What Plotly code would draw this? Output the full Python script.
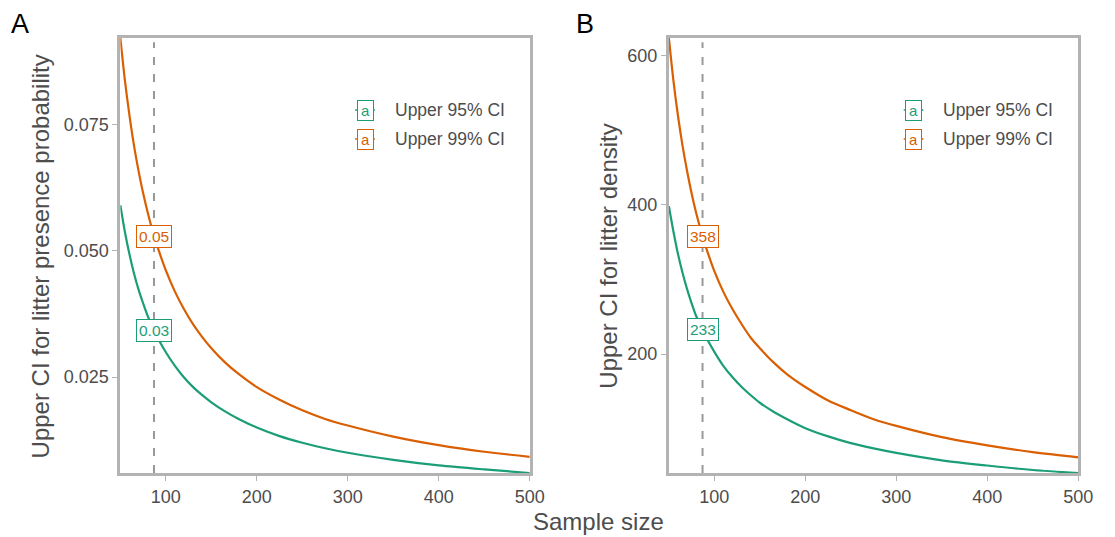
import plotly.graph_objects as go

# Sample sizes at which the upper confidence limits are tabulated
sample_size = [50, 55, 60, 65, 70, 75, 80, 87, 90, 100, 110, 120, 130, 140, 150,
               165, 180, 200, 225, 250, 275, 300, 350, 400, 450, 500]

# Panel A: upper CI for litter presence probability
presence_95 = [0.0590, 0.0537, 0.0493, 0.0455, 0.0423, 0.0396, 0.0371, 0.0343, 0.0331,
               0.0299, 0.0272, 0.0249, 0.0230, 0.0214, 0.0200, 0.0182, 0.0167, 0.0150,
               0.0133, 0.0120, 0.0109, 0.0100, 0.0086, 0.0075, 0.0067, 0.0060]
presence_99 = [0.0921, 0.0837, 0.0768, 0.0708, 0.0658, 0.0614, 0.0576, 0.0529, 0.0512,
               0.0461, 0.0419, 0.0384, 0.0354, 0.0329, 0.0307, 0.0279, 0.0256, 0.0230,
               0.0205, 0.0184, 0.0167, 0.0154, 0.0132, 0.0115, 0.0102, 0.0092]

# Panel B: upper CI for litter density
density_95 = [398, 364, 334, 309, 287, 268, 251, 233, 225, 203, 184, 169, 156, 145, 135,
              123, 113, 101, 90, 81, 74, 68, 58, 51, 45, 41]
density_99 = [623, 566, 519, 479, 445, 415, 389, 358, 346, 311, 283, 260, 240, 222, 208,
              189, 173, 156, 138, 125, 113, 104, 89, 78, 69, 62]

# Chosen sample size marked by the dashed line, with its labelled values
chosen_n = 87
presence_at_n = {"95": 0.0343, "99": 0.0529}
density_at_n = {"95": 233, "99": 358}

series_names = ["Upper 95% CI", "Upper 99% CI"]
colors = {"95": "#1b9e77", "99": "#d95f02"}

W, H = 1115, 537
TOP, BOTTOM = 38, 473          # pixel rows of the plotting area
FONT = "Liberation Sans, Arial, sans-serif"
TICK_COLOR = "#4d4d4d"
FRAME = "#b3b3b3"

dom_a = [122 / W, 537 / W]
dom_b = [678 / W, 1093 / W]


def py(pix):
    """Pixel row -> paper y (paper spans the plotting area)."""
    return (BOTTOM - pix) / (BOTTOM - TOP)


fig = go.Figure()

panels = [
    ("x", "y", presence_95, presence_99, presence_at_n, lambda v: f"{v:.2f}"),
    ("x2", "y2", density_95, density_99, density_at_n, lambda v: f"{v:.0f}"),
]

for xa, ya, s95, s99, at_n, fmt in panels:
    for key, vals in (("95", s95), ("99", s99)):
        fig.add_trace(go.Scatter(
            x=sample_size, y=vals, mode="lines", xaxis=xa, yaxis=ya,
            line=dict(color=colors[key], width=2.2, shape="spline", smoothing=0.8),
            showlegend=False, hoverinfo="skip",
        ))
    # dashed reference line at the chosen sample size
    fig.add_shape(type="line", xref=xa, yref=f"{ya} domain",
                  x0=chosen_n, x1=chosen_n, y0=0, y1=0.99,
                  line=dict(color="#999999", width=2, dash="8px,9px"), layer="above")
    # value labels at the chosen sample size
    for key in ("95", "99"):
        fig.add_annotation(
            x=chosen_n, y=at_n[key], xref=xa, yref=ya, text=fmt(at_n[key]),
            showarrow=False, font=dict(family=FONT, size=15.5, color=colors[key]),
            bgcolor="white", bordercolor=colors[key], borderwidth=1, borderpad=2,
        )

axis_common = dict(
    showline=True, linecolor=FRAME, linewidth=3, mirror=True,
    ticks="outside", ticklen=5, tickcolor=FRAME, tickwidth=1,
    showgrid=False, zeroline=False,
    tickfont=dict(family=FONT, size=18, color=TICK_COLOR),
)

fig.update_layout(
    width=W, height=H, autosize=False,
    margin=dict(l=0, r=0, t=TOP, b=H - BOTTOM),
    plot_bgcolor="white", paper_bgcolor="white",
    xaxis=dict(domain=dom_a, anchor="y", range=[50, 500],
               tickvals=[100, 200, 300, 400, 500], **axis_common),
    yaxis=dict(domain=[0, 1], anchor="x", range=[min(presence_95), max(presence_99)],
               tickvals=[0.025, 0.050, 0.075], tickformat=".3f", **axis_common),
    xaxis2=dict(domain=dom_b, anchor="y2", range=[50, 500],
                tickvals=[100, 200, 300, 400, 500], **axis_common),
    yaxis2=dict(domain=[0, 1], anchor="x2", range=[min(density_95), max(density_99)],
                tickvals=[200, 400, 600], **axis_common),
    showlegend=False,
)

# Panel letters
for txt, px in (("A", 20), ("B", 593)):
    fig.add_annotation(x=px / W, y=py(24), xref="paper", yref="paper",
                       text=txt, showarrow=False, yanchor="middle", xanchor="center",
                       font=dict(family=FONT, size=27, color="black"))

# Axis titles
title_font = dict(family=FONT, size=24, color="#4d4d4d")
fig.add_annotation(x=607 / W, y=py(521), xref="paper", yref="paper",
                   text="Sample size", showarrow=False, font=title_font,
                   xanchor="center", yanchor="middle")
fig.add_annotation(x=42 / W, y=py(256), xref="paper", yref="paper",
                   text="Upper CI for litter presence probability", textangle=-90,
                   showarrow=False, font=title_font, xanchor="center", yanchor="middle")
fig.add_annotation(x=617 / W, y=py(256), xref="paper", yref="paper",
                   text="Upper CI for litter density", textangle=-90,
                   showarrow=False, font=title_font, xanchor="center", yanchor="middle")

# Legend drawn in each panel: line key with a boxed "a", then the series name
for key_x in (370, 926):
    for i, (key, name) in enumerate(zip(("95", "99"), series_names)):
        ky = 110 + i * 29
        fig.add_shape(type="line", xref="paper", yref="paper",
                      x0=(key_x - 10) / W, x1=(key_x + 10) / W,
                      y0=py(ky), y1=py(ky),
                      line=dict(color=colors[key], width=1.5))
        fig.add_annotation(x=key_x / W, y=py(ky), xref="paper", yref="paper",
                           text="a", showarrow=False,
                           font=dict(family=FONT, size=15, color=colors[key]),
                           bgcolor="white", bordercolor=colors[key], borderwidth=1,
                           borderpad=1, width=13, height=17,
                           xanchor="center", yanchor="middle")
        fig.add_annotation(x=(key_x + 28) / W, y=py(ky), xref="paper", yref="paper",
                           text=name, showarrow=False,
                           font=dict(family=FONT, size=17.5, color=TICK_COLOR),
                           xanchor="left", yanchor="middle")

fig.write_html("out.html", config={"responsive": False})
